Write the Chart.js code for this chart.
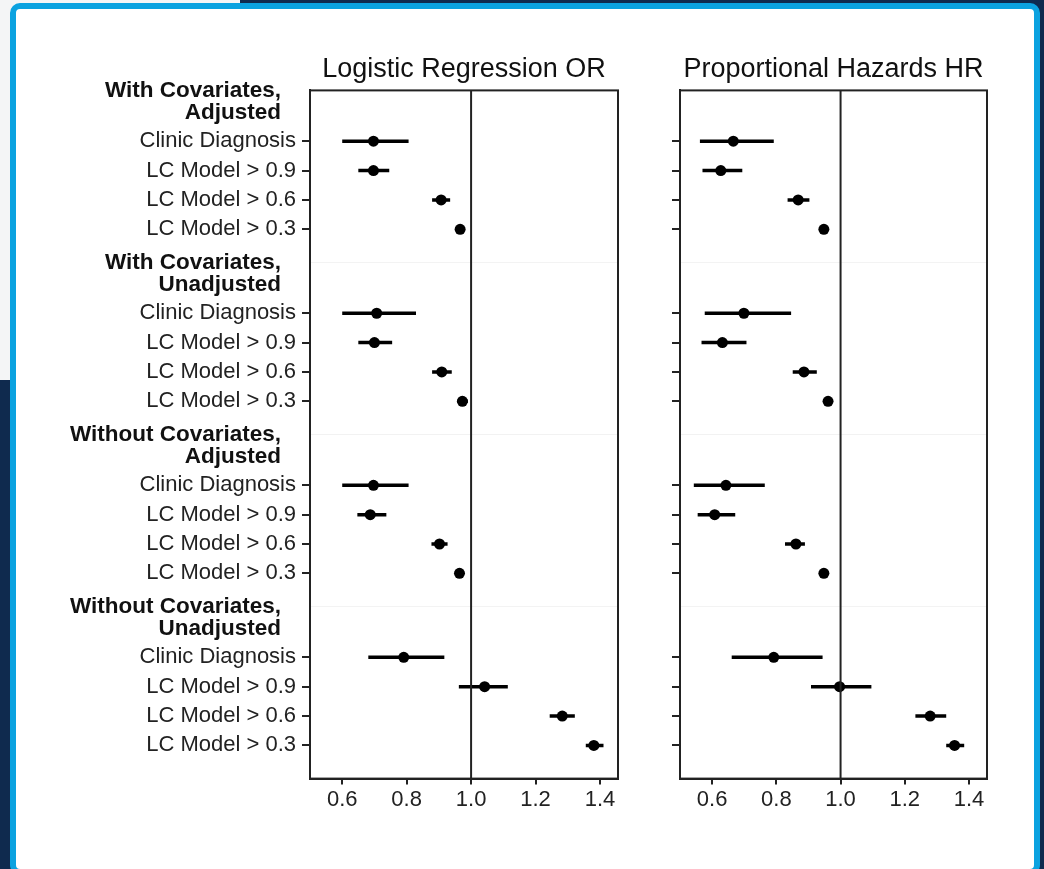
<!DOCTYPE html>
<html>
<head>
<meta charset="utf-8">
<script src="https://cdn.jsdelivr.net/npm/chart.js@4.4.0/dist/chart.umd.min.js"></script>
<style>
    body { margin: 0; width: 1044px; height: 869px; overflow: hidden; position: relative; background: #0f2a4e; font-family: "Liberation Sans", Arial, sans-serif; }
    #topLeft { position: absolute; left: 0; top: 0; width: 240px; height: 380px; background: #f4f5f6; }
    #frame { position: absolute; left: 10px; top: 3px; width: 1030px; height: 872px; box-sizing: border-box; border: 6px solid #0ba2e0; border-radius: 10px; background: #fff; }
    canvas { position: absolute; top: 0; }
    #orChart { left: 0; }
    #hrChart { left: 640px; }
</style>
</head>
<body>
<div id="topLeft"></div>
<div id="frame"></div>
<canvas id="orChart" width="640" height="869"></canvas>
<canvas id="hrChart" width="404" height="869"></canvas>
<script>
// Labels
const rowLabels = ['Clinic Diagnosis', 'LC Model > 0.9', 'LC Model > 0.6', 'LC Model > 0.3'];
const groupLabels = [
    ['With Covariates,', 'Adjusted'],
    ['With Covariates,', 'Unadjusted'],
    ['Without Covariates,', 'Adjusted'],
    ['Without Covariates,', 'Unadjusted'],
];
const xTicks = [0.6, 0.8, 1.0, 1.2, 1.4];

// Logistic regression odds ratios (4 rows per group)
const orEst  = [0.697, 0.697, 0.907, 0.966,  0.707, 0.700, 0.909, 0.973,  0.697, 0.687, 0.902, 0.964,  0.791, 1.042, 1.283, 1.381];
const orLow  = [0.600, 0.650, 0.879, 0.955,  0.600, 0.650, 0.879, 0.958,  0.600, 0.647, 0.877, 0.954,  0.681, 0.962, 1.244, 1.356];
const orHigh = [0.806, 0.746, 0.935, 0.978,  0.829, 0.755, 0.940, 0.990,  0.806, 0.737, 0.927, 0.975,  0.917, 1.114, 1.322, 1.411];

// Proportional hazards hazard ratios
const hrEst  = [0.666, 0.627, 0.868, 0.948,  0.699, 0.632, 0.886, 0.961,  0.643, 0.608, 0.861, 0.948,  0.792, 0.997, 1.279, 1.355];
const hrLow  = [0.562, 0.570, 0.835, 0.940,  0.577, 0.567, 0.851, 0.948,  0.543, 0.555, 0.827, 0.937,  0.661, 0.908, 1.233, 1.329];
const hrHigh = [0.792, 0.694, 0.903, 0.958,  0.846, 0.707, 0.926, 0.972,  0.764, 0.672, 0.889, 0.963,  0.944, 1.096, 1.329, 1.385];

// Layout of the row axis (in row units)
const BLOCK = 5.86;
const HEADER_OFF = 0.38;
const FIRST_ROW_OFF = 1.73;
const Y_MAX = groupLabels.length * BLOCK;

const FONT = '"Liberation Sans", Arial, sans-serif';
const INK = '#222';

function rowPos(i) {
    const g = Math.floor(i / rowLabels.length);
    const r = i % rowLabels.length;
    return g * BLOCK + FIRST_ROW_OFF + r;
}

const rowPositions = orEst.map((v, i) => rowPos(i));

const framePlugin = {
    id: 'frame',
    beforeDatasetsDraw(chart) {
        const {ctx, chartArea, scales} = chart;
        // faint separators between groups
        ctx.save();
        ctx.strokeStyle = 'rgba(0,0,0,0.05)';
        ctx.lineWidth = 1;
        for (let g = 1; g < groupLabels.length; g++) {
            const y = scales.y.getPixelForValue(g * BLOCK);
            ctx.beginPath();
            ctx.moveTo(chartArea.left, y);
            ctx.lineTo(chartArea.right, y);
            ctx.stroke();
        }
        ctx.restore();
    },
    afterDraw(chart) {
        const {ctx, chartArea} = chart;
        ctx.save();
        ctx.strokeStyle = INK;
        ctx.lineWidth = 2;
        ctx.strokeRect(chartArea.left, chartArea.top, chartArea.right - chartArea.left, chartArea.bottom - chartArea.top);
        ctx.restore();
    }
};

const headerPlugin = {
    id: 'groupHeaders',
    afterDraw(chart) {
        const {ctx, scales} = chart;
        ctx.save();
        ctx.font = 'bold 22.5px ' + FONT;
        ctx.fillStyle = '#111';
        ctx.textAlign = 'right';
        ctx.textBaseline = 'middle';
        groupLabels.forEach((lines, g) => {
            const yc = scales.y.getPixelForValue(g * BLOCK + HEADER_OFF);
            ctx.fillText(lines[0], 281, yc - 11);
            ctx.fillText(lines[1], 281, yc + 11);
        });
        ctx.restore();
    }
};

function ciData(low, high) {
    let pts = [];
    for (let i = 0; i < low.length; i++) {
        pts.push({x: low[i], y: rowPositions[i]});
        pts.push({x: high[i], y: rowPositions[i]});
        pts.push({x: NaN, y: NaN});
    }
    return pts;
}

function renderPanel(canvasId, title, est, low, high, opts) {
    return new Chart(document.getElementById(canvasId), {
        type: 'scatter',
        data: {
            datasets: [
                {
                    data: [{x: 1, y: 0}, {x: 1, y: Y_MAX}],
                    showLine: true,
                    borderColor: INK,
                    borderWidth: 2,
                    pointRadius: 0,
                },
                {
                    data: ciData(low, high),
                    showLine: true,
                    spanGaps: false,
                    borderColor: '#000',
                    borderWidth: 3.5,
                    pointRadius: 0,
                },
                {
                    data: est.map((v, i) => ({x: v, y: rowPositions[i]})),
                    pointRadius: 5.5,
                    pointBackgroundColor: '#000',
                    pointBorderWidth: 0,
                },
            ]
        },
        options: {
            responsive: false,
            animation: false,
            devicePixelRatio: 1,
            layout: {
                padding: {top: 0, left: 0, right: opts.padRight, bottom: 54},
            },
            plugins: {
                legend: {display: false},
                tooltip: {enabled: false},
                title: {
                    display: true,
                    text: title,
                    fullSize: false,
                    color: '#111',
                    font: {family: FONT, size: 27, weight: 'normal'},
                    padding: {top: 53, bottom: 5},
                },
            },
            scales: {
                x: {
                    type: 'linear',
                    min: 0.5,
                    max: 1.456,
                    afterBuildTicks: (scale) => {
                        scale.ticks = xTicks.map((v) => ({value: v}));
                    },
                    ticks: {
                        color: INK,
                        padding: 2,
                        font: {family: FONT, size: 22},
                        callback: (v) => v.toFixed(1),
                    },
                    grid: {drawOnChartArea: false, tickLength: 6, color: INK, lineWidth: 2},
                    border: {display: true, color: INK, width: 2},
                },
                y: {
                    type: 'linear',
                    reverse: true,
                    min: 0,
                    max: Y_MAX,
                    afterBuildTicks: (scale) => {
                        scale.ticks = rowPositions.map((v) => ({value: v}));
                    },
                    afterFit: (scale) => {
                        scale.width = opts.axisWidth;
                    },
                    ticks: {
                        color: INK,
                        padding: 6,
                        font: {family: FONT, size: 22},
                        callback: (v, i) => opts.showLabels ? rowLabels[i % rowLabels.length] : '',
                    },
                    grid: {drawOnChartArea: false, tickLength: 8, color: INK, lineWidth: 2},
                    border: {display: true, color: INK, width: 2},
                },
            },
        },
        plugins: opts.showLabels ? [framePlugin, headerPlugin] : [framePlugin],
    });
}

renderPanel('orChart', 'Logistic Regression OR', orEst, orLow, orHigh, {axisWidth: 310, padRight: 22, showLabels: true});
renderPanel('hrChart', 'Proportional Hazards HR', hrEst, hrLow, hrHigh, {axisWidth: 40, padRight: 57, showLabels: false});
</script>
</body>
</html>
